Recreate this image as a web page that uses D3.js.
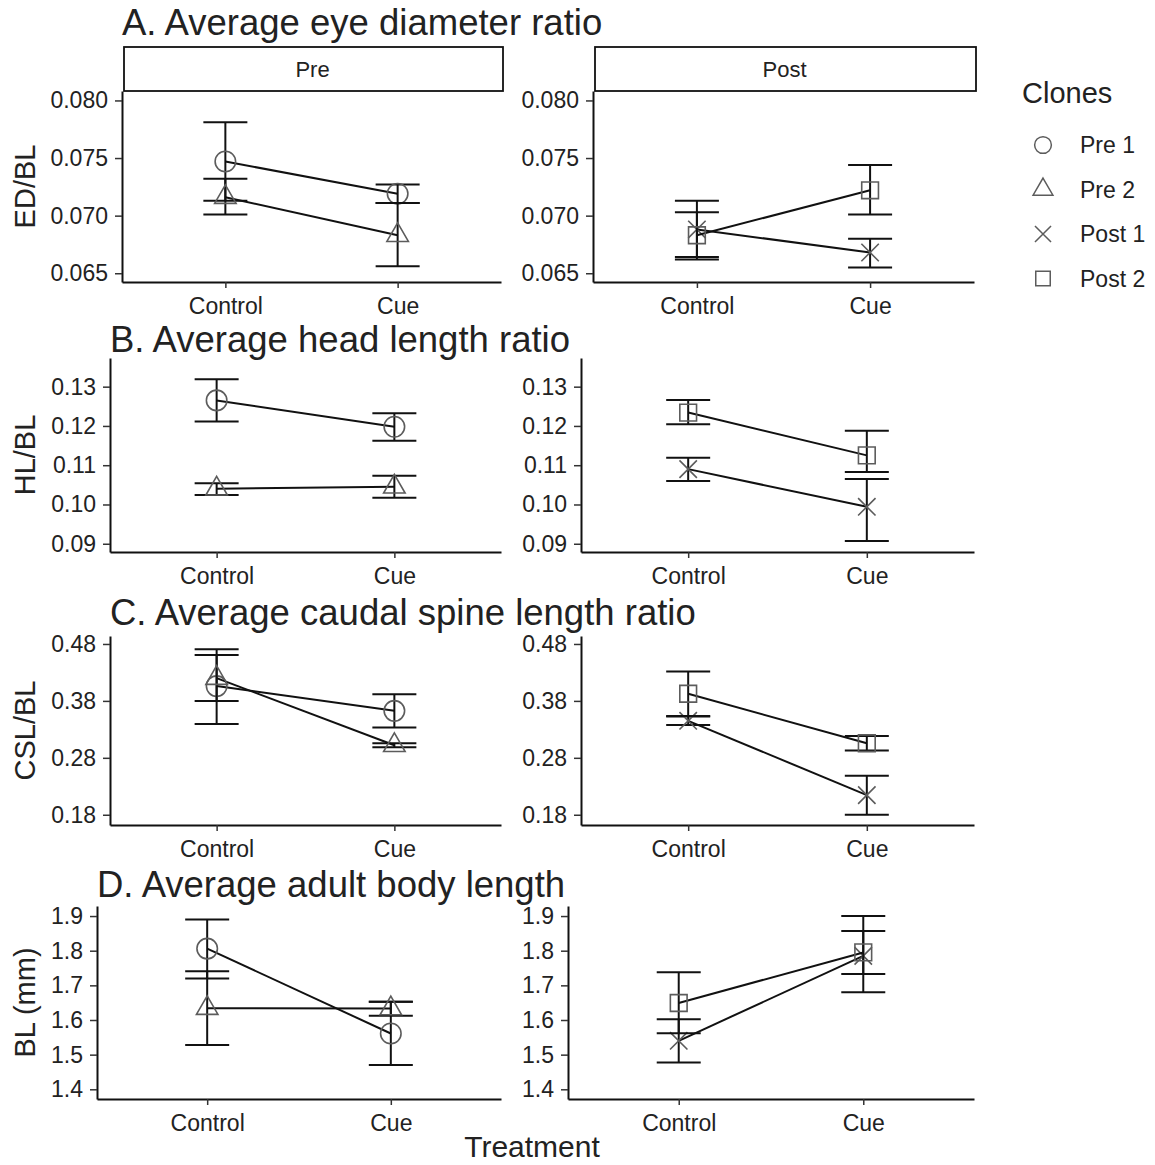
<!DOCTYPE html>
<html lang="en">
<head>
<meta charset="UTF-8">
<title>Clones morphology</title>
<style>
  body { margin: 0; background: #fff; }
  text { font-family: "Liberation Sans", Arial, sans-serif; fill: #222; }
</style>
</head>
<body>
<svg width="1155" height="1165" id="svg"></svg>
<script src="https://d3js.org/d3.v7.min.js"></script>
<script>
// categories
const treatments = ["Control", "Cue"]
const facets = ["Pre", "Post"]
const clones = ["Pre 1", "Pre 2", "Post 1", "Post 2"]
// which clones go in which facet (index into clones)
const facetClones = [[0, 1], [2, 3]]

// values per clone: [Control, Cue]
const eyeMean = [[0.0747, 0.0719], [0.0716, 0.0683], [0.0688, 0.0668], [0.0683, 0.0722]]
const eyeLo = [[0.0713, 0.0711], [0.0701, 0.0656], [0.0664, 0.0655], [0.0662, 0.0701]]
const eyeHi = [[0.0781, 0.0727], [0.0732, 0.0711], [0.0703, 0.0680], [0.0713, 0.0744]]

const headMean = [[0.1265, 0.1198], [0.1040, 0.1045], [0.1090, 0.0994], [0.1234, 0.1125]]
const headLo = [[0.1211, 0.1162], [0.1024, 0.1017], [0.1060, 0.0907], [0.1204, 0.1083]]
const headHi = [[0.1319, 0.1232], [0.1054, 0.1073], [0.1119, 0.1065], [0.1266, 0.1188]]

const spineMean = [[0.406, 0.3625], [0.420, 0.302], [0.345, 0.2145], [0.3925, 0.3056]]
const spineLo = [[0.3396, 0.3331], [0.380, 0.2986], [0.3378, 0.180], [0.3536, 0.2927]]
const spineHi = [[0.4709, 0.3918], [0.4608, 0.3057], [0.3524, 0.2487], [0.4315, 0.3185]]

const bodyMean = [[1.806, 1.561], [1.634, 1.633], [1.540, 1.785], [1.649, 1.795]]
const bodyLo = [[1.720, 1.470], [1.528, 1.6125], [1.477, 1.680], [1.5615, 1.733]]
const bodyHi = [[1.890, 1.653], [1.741, 1.653], [1.602, 1.900], [1.7376, 1.857]]

// tick labels
const eyeTicks = [0.065, 0.070, 0.075, 0.080]
const headTicks = [0.09, 0.10, 0.11, 0.12, 0.13]
const spineTicks = [0.18, 0.28, 0.38, 0.48]
const bodyTicks = [1.4, 1.5, 1.6, 1.7, 1.8, 1.9]

const rows = [
    { title: "A. Average eye diameter ratio", ylab: "ED/BL", mean: eyeMean, lo: eyeLo, hi: eyeHi,
      ticks: eyeTicks, fmt: d3.format(".3f"), domain: [0.06424, 0.08082], top: 91, bottom: 282, axisX: 122, titleY: 35, strip: true },
    { title: "B. Average head length ratio", ylab: "HL/BL", mean: headMean, lo: headLo, hi: headHi,
      ticks: headTicks, fmt: d3.format(".2f"), domain: [0.0879, 0.1373], top: 358, bottom: 552, axisX: 110, titleY: 352 },
    { title: "C. Average caudal spine length ratio", ylab: "CSL/BL", mean: spineMean, lo: spineLo, hi: spineHi,
      ticks: spineTicks, fmt: d3.format(".2f"), domain: [0.162, 0.494], top: 636, bottom: 825, axisX: 110, titleY: 625 },
    { title: "D. Average adult body length", ylab: "BL (mm)", mean: bodyMean, lo: bodyLo, hi: bodyHi,
      ticks: bodyTicks, fmt: d3.format(".1f"), domain: [1.372, 1.929], top: 906, bottom: 1099, axisX: 97, titleY: 897 }
]

const svg = d3.select("svg#svg")
const facetShift = 471
const panelRight = [501, 974]
const capHalf = 22
const shapeColor = "#5c5c5c"

const shapes = [
    d3.symbol().type(d3.symbolCircle).size(330),
    d3.symbol().type(d3.symbolTriangle).size(200),
    d3.symbol().type(d3.symbolTimes).size(200),
    d3.symbol().type(d3.symbolSquare).size(280)
]
const legendShapes = [
    d3.symbol().type(d3.symbolCircle).size(220),
    d3.symbol().type(d3.symbolTriangle).size(170),
    d3.symbol().type(d3.symbolTimes).size(170),
    d3.symbol().type(d3.symbolSquare).size(210)
]

rows.forEach(row => {
    // row title
    svg.append("text").attr("x", row.axisX).attr("y", row.titleY)
        .attr("font-size", 36.5).text(row.title)
    // y axis title
    svg.append("text")
        .attr("transform", `translate(35,${(row.top + row.bottom) / 2}) rotate(-90)`)
        .attr("text-anchor", "middle").attr("font-size", 29).text(row.ylab)

    facets.forEach((facet, fi) => {
        const x0 = row.axisX + fi * facetShift
        const x1 = panelRight[fi]
        const x = d3.scalePoint().domain(treatments).range([x0, x1]).padding(0.6)
        const y = d3.scaleLinear().domain(row.domain).range([row.bottom, row.top])
        const g = svg.append("g")

        if (row.strip) {
            g.append("rect").attr("x", x0 + 2).attr("y", 47).attr("width", x1 - x0).attr("height", row.top - 47)
                .attr("fill", "#fff").attr("stroke", "#111").attr("stroke-width", 1.8)
            g.append("text").attr("x", (x0 + x1) / 2 + 1).attr("y", (47 + row.top) / 2)
                .attr("dy", "0.36em").attr("text-anchor", "middle").attr("font-size", 22).text(facet)
        }

        const yAxis = g.append("g").attr("transform", `translate(${x0},0)`)
            .call(d3.axisLeft(y).tickValues(row.ticks).tickFormat(row.fmt).tickSize(7).tickSizeOuter(0).tickPadding(7))
        const xAxis = g.append("g").attr("transform", `translate(0,${row.bottom})`)
            .call(d3.axisBottom(x).tickSize(6).tickSizeOuter(0).tickPadding(10))
        ;[yAxis, xAxis].forEach(a => {
            a.select(".domain").attr("stroke", "#111").attr("stroke-width", 2)
            a.selectAll(".tick line").attr("stroke", "#333").attr("stroke-width", 1.5)
            a.selectAll(".tick text").attr("font-size", 23).attr("fill", "#333")
                .style("font-family", '"Liberation Sans", Arial, sans-serif')
        })

        facetClones[fi].forEach(ci => {
            const pts = treatments.map((t, ti) => ({ t: t, m: row.mean[ci][ti], lo: row.lo[ci][ti], hi: row.hi[ci][ti] }))
            // error bars
            const eb = g.append("g").attr("stroke", "#111").attr("stroke-width", 2).attr("fill", "none")
            pts.forEach(p => {
                const cx = x(p.t)
                eb.append("line").attr("x1", cx).attr("x2", cx).attr("y1", y(p.lo)).attr("y2", y(p.hi))
                eb.append("line").attr("x1", cx - capHalf).attr("x2", cx + capHalf).attr("y1", y(p.lo)).attr("y2", y(p.lo))
                eb.append("line").attr("x1", cx - capHalf).attr("x2", cx + capHalf).attr("y1", y(p.hi)).attr("y2", y(p.hi))
            })
            // connecting line
            g.append("path").datum(pts)
                .attr("d", d3.line().x(d => x(d.t)).y(d => y(d.m)))
                .attr("fill", "none").attr("stroke", "#111").attr("stroke-width", 2)
            // points
            g.selectAll(null).data(pts).enter().append("path")
                .attr("transform", d => `translate(${x(d.t)},${y(d.m)})`)
                .attr("d", shapes[ci]).attr("fill", "none")
                .attr("stroke", shapeColor).attr("stroke-width", 1.6)
        })
    })
})

// x axis title
svg.append("text").attr("x", 532).attr("y", 1157).attr("text-anchor", "middle")
    .attr("font-size", 30).text("Treatment")

// legend
const legend = svg.append("g")
legend.append("text").attr("x", 1022).attr("y", 103).attr("font-size", 29).text("Clones")
clones.forEach((c, i) => {
    const cy = 145 + i * 44.5
    legend.append("path").attr("transform", `translate(1043,${cy})`)
        .attr("d", legendShapes[i]).attr("fill", "none").attr("stroke", shapeColor).attr("stroke-width", 1.5)
    legend.append("text").attr("x", 1080).attr("y", cy).attr("dy", "0.36em")
        .attr("font-size", 23).text(c)
})
</script>
</body>
</html>
